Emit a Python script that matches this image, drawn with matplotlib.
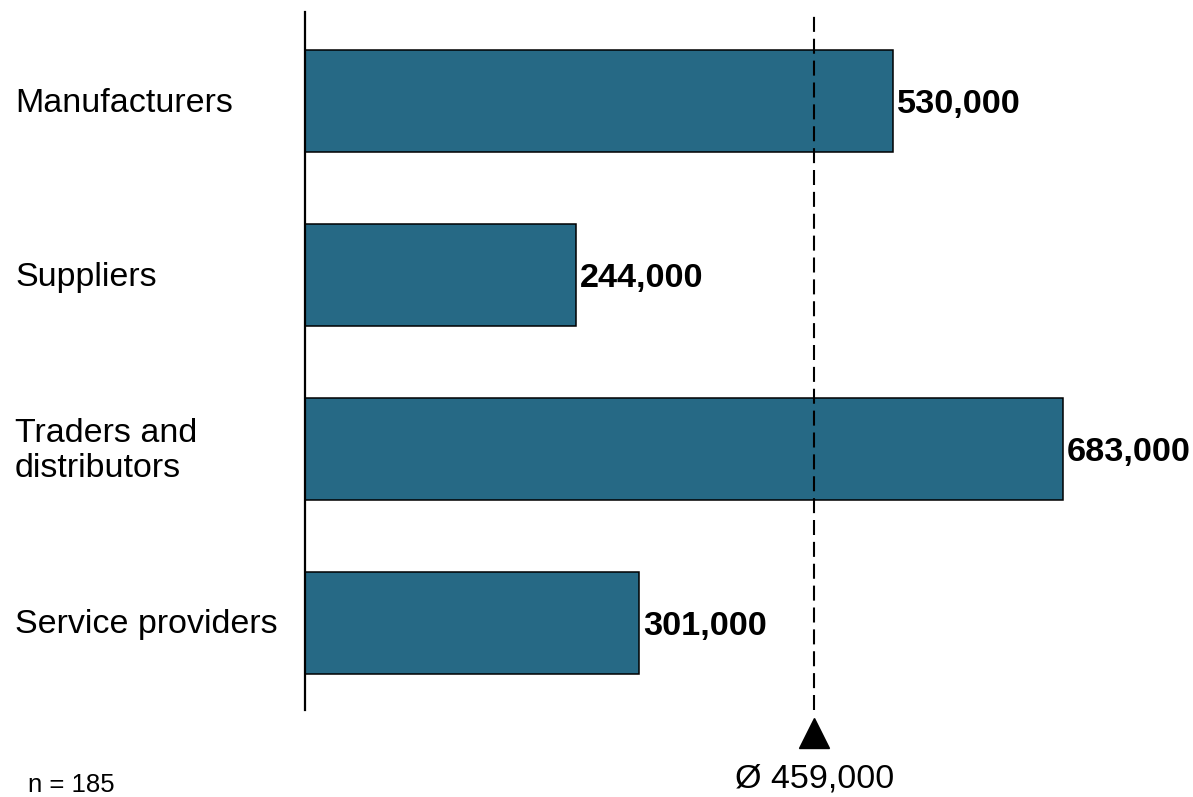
import matplotlib
matplotlib.use("Agg")
import matplotlib.pyplot as plt
from matplotlib.transforms import offset_copy

categories = ["Manufacturers", "Suppliers", "Traders and\ndistributors", "Service providers"]
values = [530000, 244000, 683000, 301000]
average = 459000
sample_note = "n = 185"

plt.rcParams["font.family"] = ["Liberation Sans", "DejaVu Sans"]

W, H = 1193, 797
fig = plt.figure(figsize=(W / 100, H / 100), dpi=100)

# axes placed in pixel terms
ax_left, ax_right = 305, 1193
ax_top, ax_bottom = 12, 710
ax = fig.add_axes([ax_left / W, 1 - ax_bottom / H, (ax_right - ax_left) / W, (ax_bottom - ax_top) / H])

px_per_unit = 588 / 530000
ax.set_xlim(0, (ax_right - ax_left) / px_per_unit)
ax.set_ylim(3.503, -0.512)

ypos = list(range(len(categories)))
ax.barh(ypos, values, height=0.587, color="#266985", edgecolor="black", linewidth=1.1, zorder=2)

down = offset_copy(ax.transData, fig=fig, x=0, y=-2.5, units="points")
for y, v in zip(ypos, values):
    ax.text(v + 4000, y, f"{v:,}", ha="left", va="center", fontsize=24.7, fontweight="bold",
            color="black", zorder=4, transform=down)

for y, c in zip(ypos, categories):
    ax.text(15 / W, 1 - (103.5 + y * 173.83) / H, c, transform=fig.transFigure, ha="left", va="center",
            fontsize=24.5, linespacing=1.17)

# average line with marker and label
ax.axvline(average, ymin=0, ymax=1, color="black", linestyle=(0, (7.2, 3.3)), linewidth=1.5, zorder=3)
ax.plot([average], [3.503 + 0.5 * 26 / 173.83 + 10 / 173.83], marker="^", markersize=22, color="black",
        clip_on=False, zorder=5)
ax.text(average, 3.503 + 69 / 173.83, f"Ø {average:,}", ha="center", va="center", fontsize=24.5, clip_on=False)

fig.text(28 / W, 1 - 785 / H, sample_note, ha="left", va="center", fontsize=18.5)

for s in ["top", "right", "bottom"]:
    ax.spines[s].set_visible(False)
ax.spines["left"].set_linewidth(1.6)
ax.set_xticks([])
ax.set_yticks([])
ax.patch.set_alpha(0)

fig.savefig("out.png", dpi=100)
